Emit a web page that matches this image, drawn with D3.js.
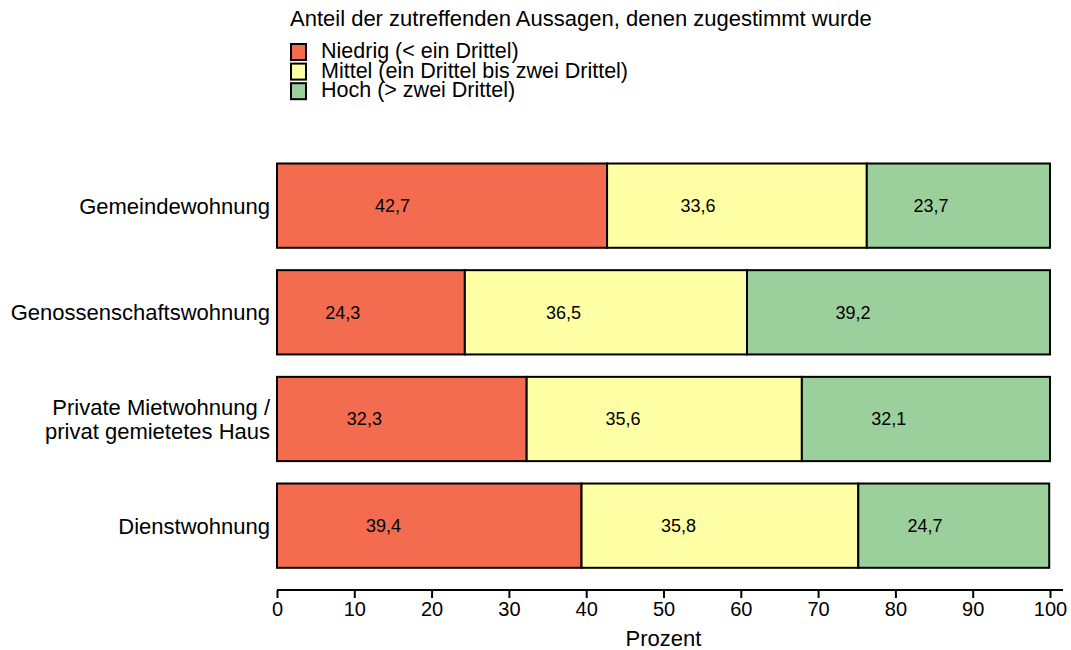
<!DOCTYPE html>
<html>
<head>
<meta charset="utf-8">
<script src="https://cdn.jsdelivr.net/npm/d3@7"></script>
<style>
    body { margin: 0; background: #fff; }
    svg { font-family: "Liberation Sans", Arial, sans-serif; }
</style>
</head>
<body>
<svg id="chart" width="1071" height="650"></svg>
<script>
// Data
const categories = ["Gemeindewohnung", "Genossenschaftswohnung", "Private Mietwohnung /\nprivat gemietetes Haus", "Dienstwohnung"];
const seriesNames = ["Niedrig (< ein Drittel)", "Mittel (ein Drittel bis zwei Drittel)", "Hoch (> zwei Drittel)"];
const niedrig = [42.7, 24.3, 32.3, 39.4];
const mittel = [33.6, 36.5, 35.6, 35.8];
const hoch = [23.7, 39.2, 32.1, 24.7];
const xTicks = [0, 10, 20, 30, 40, 50, 60, 70, 80, 90, 100];
const colors = ["#F46C4F", "#FFFFA6", "#9BD09D"];

const svg = d3.select("#chart");

const x = d3.scaleLinear()
    .domain([0, 100])
    .range([277, 1050]);

const y = d3.scaleBand()
    .domain(categories)
    .range([152.3, 579])
    .paddingInner(0.21)
    .paddingOuter(0.105);

// build stacked rows
const rows = categories.map((c, i) => ({ cat: c, Niedrig: niedrig[i], Mittel: mittel[i], Hoch: hoch[i] }));
const stack = d3.stack().keys(["Niedrig", "Mittel", "Hoch"]);
const layers = stack(rows);

const fmt = v => d3.format(".1f")(v).replace(".", ",");

layers.forEach((layer, li) => {
    svg.append("g")
        .selectAll("rect")
        .data(layer)
        .enter().append("rect")
        .attr("x", d => x(d[0]))
        .attr("y", d => y(d.data.cat))
        .attr("width", d => x(d[1]) - x(d[0]))
        .attr("height", y.bandwidth())
        .attr("fill", colors[li])
        .attr("stroke", "#000")
        .attr("stroke-width", 2);

    // value labels (sit a bit left of the segment centre, as in the original)
    svg.append("g")
        .selectAll("text")
        .data(layer)
        .enter().append("text")
        .attr("x", d => x(d[0] + (d[1] - d[0]) * 0.35))
        .attr("y", d => y(d.data.cat) + y.bandwidth() / 2)
        .attr("dy", "0.36em")
        .attr("text-anchor", "middle")
        .style("font-size", "18px")
        .attr("fill", "#000")
        .text(d => fmt(d[1] - d[0]));
});

// category labels
const catLabels = svg.append("g")
    .selectAll("text")
    .data(categories)
    .enter().append("text")
    .attr("text-anchor", "end")
    .attr("x", 270)
    .attr("y", d => y(d) + y.bandwidth() / 2)
    .style("font-size", "22px")
    .attr("fill", "#000");

catLabels.each(function(d) {
    const lines = d.split("\n");
    const t = d3.select(this);
    lines.forEach((ln, k) => {
        t.append("tspan")
            .attr("x", 270)
            .attr("dy", k === 0 ? `${0.36 - (lines.length - 1) * 0.55}em` : "1.1em")
            .text(ln);
    });
});

// x axis
const axisG = svg.append("g")
    .attr("transform", "translate(0,590)")
    .call(d3.axisBottom(x).tickValues(xTicks).tickSize(8).tickSizeOuter(0).tickPadding(4));

axisG.select(".domain")
    .attr("d", `M${x(0)},0H${x(100) + 13}`)
    .attr("stroke-width", 2);
axisG.selectAll(".tick line").attr("stroke-width", 2);
axisG.selectAll(".tick text")
    .style("font-size", "20px")
    .style("font-family", "'Liberation Sans', Arial, sans-serif")
    .attr("fill", "#000");

svg.append("text")
    .attr("x", x(50))
    .attr("y", 646)
    .attr("text-anchor", "middle")
    .style("font-size", "22px")
    .text("Prozent");

// legend
svg.append("text")
    .attr("x", 290)
    .attr("y", 26)
    .style("font-size", "22px")
    .text("Anteil der zutreffenden Aussagen, denen zugestimmt wurde");

const legend = svg.append("g")
    .selectAll("g")
    .data(seriesNames)
    .enter().append("g")
    .attr("transform", (d, i) => `translate(290,${43 + i * 19.6})`);

legend.append("rect")
    .attr("x", 1)
    .attr("y", 1)
    .attr("width", 15)
    .attr("height", 16)
    .attr("fill", (d, i) => colors[i])
    .attr("stroke", "#000")
    .attr("stroke-width", 2);

legend.append("text")
    .attr("x", 31)
    .attr("y", 15)
    .style("font-size", "21.5px")
    .text(d => d);
</script>
</body>
</html>
